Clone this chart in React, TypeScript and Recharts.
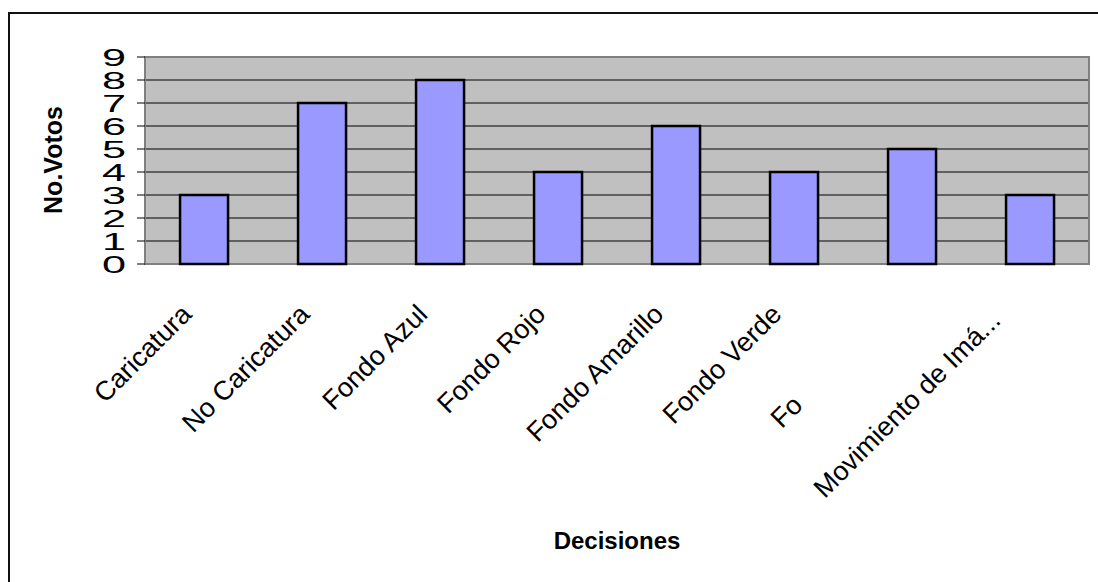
import React from 'react';
import { BarChart, Bar, XAxis, YAxis, CartesianGrid, ReferenceArea } from 'recharts';

const categories = [
  'Caricatura',
  'No Caricatura',
  'Fondo Azul',
  'Fondo Rojo',
  'Fondo Amarillo',
  'Fondo Verde',
  'Fo',
  'Movimiento de Imá...',
];
const votos = [3, 7, 8, 4, 6, 4, 5, 3];
const yTicks = [0, 1, 2, 3, 4, 5, 6, 7, 8, 9];
const edgeTicks = [0, 1, 2, 3, 4, 5, 6, 7, 8];

const data = categories.map((name, i) => ({ name, votos: votos[i], pos: i + 0.5 }));

const FONT = '"Liberation Sans", Arial, sans-serif';

const XTick = (props: any) => {
  const { x, y, index, payload } = props;
  let dx = -11;
  let dy = 44;
  if (index === 6) {
    dx = -108;
    dy = 135;
  }
  if (index === categories.length - 1) {
    dx = -28;
    dy = 50;
  }
  const tx = x + dx;
  const ty = y + dy;
  return (
    <text
      x={tx}
      y={ty}
      transform={`rotate(-45 ${tx} ${ty})`}
      textAnchor="end"
      fontFamily={FONT}
      fontSize={27}
      fill="#000"
    >
      {payload.value}
    </text>
  );
};

const YTick = (props: any) => {
  const { x, y, payload } = props;
  return (
    <text
      transform={`translate(${x + 2},${y + 9}) scale(1.8,1)`}
      textAnchor="end"
      fontFamily={FONT}
      fontSize={24}
      fill="#000"
    >
      {payload.value}
    </text>
  );
};

export default function App() {
  return (
    <div style={{ position: 'absolute', left: 0, top: 0, width: 1098, height: 582, background: '#fff', overflow: 'hidden' }}>
      <div
        style={{
          position: 'absolute',
          left: 8,
          top: 12,
          width: 1090,
          height: 570,
          borderTop: '2px solid #111',
          borderLeft: '2px solid #111',
          boxSizing: 'border-box',
        }}
      />
      <div style={{ position: 'absolute', left: 0, top: 0 }}>
        <BarChart
          width={1098}
          height={582}
          data={data}
          margin={{ top: 57, right: 9, left: 45, bottom: 68 }}
          barCategoryGap="29.7%"
        >
          <CartesianGrid
            xAxisId="cat"
            vertical={false}
            fill="#C0C0C0"
            fillOpacity={1}
            stroke="#000"
            strokeWidth={1}
          />
          <XAxis
            xAxisId="edge"
            type="number"
            dataKey="pos"
            domain={[0, 8]}
            ticks={edgeTicks}
            allowDataOverflow
            height={0}
            tickSize={8}
            tickLine={{ stroke: '#000', strokeWidth: 1 }}
            axisLine={{ stroke: '#808080', strokeWidth: 2 }}
            tick={() => <g />}
          />
          <XAxis
            xAxisId="cat"
            dataKey="name"
            height={250}
            interval={0}
            tickLine={false}
            axisLine={false}
            tick={<XTick />}
          />
          <YAxis
            width={100}
            domain={[0, 9]}
            ticks={yTicks}
            interval={0}
            tickSize={8}
            tickMargin={13}
            tickLine={{ stroke: '#000', strokeWidth: 1 }}
            axisLine={{ stroke: '#808080', strokeWidth: 2 }}
            tick={<YTick />}
          />
          <ReferenceArea
            xAxisId="cat"
            y1={0}
            y2={9}
            fill="none"
            stroke="#808080"
            strokeWidth={2}
            ifOverflow="visible"
          />
          <Bar
            xAxisId="cat"
            dataKey="votos"
            fill="#9999FF"
            stroke="#000"
            strokeWidth={2.5}
            isAnimationActive={false}
          />
        </BarChart>
      </div>
      <div
        style={{
          position: 'absolute',
          left: 53,
          top: 160,
          transform: 'translate(-50%, -50%) rotate(-90deg)',
          fontFamily: FONT,
          fontWeight: 'bold',
          fontSize: 25,
          whiteSpace: 'nowrap',
          color: '#000',
        }}
      >
        No.Votos
      </div>
      <div
        style={{
          position: 'absolute',
          left: 617,
          top: 541,
          transform: 'translate(-50%, -50%)',
          fontFamily: FONT,
          fontWeight: 'bold',
          fontSize: 24,
          whiteSpace: 'nowrap',
          color: '#000',
        }}
      >
        Decisiones
      </div>
    </div>
  );
}
